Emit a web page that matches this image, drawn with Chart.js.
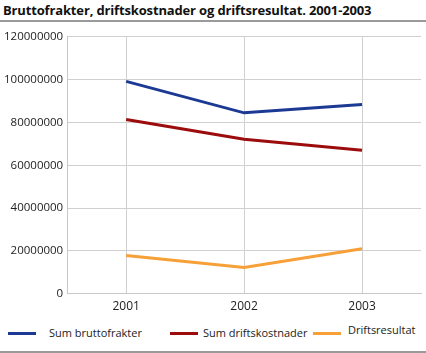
<!DOCTYPE html>
<html>
<head>
<meta charset="utf-8">
<script src="https://cdn.jsdelivr.net/npm/chart.js@4/dist/chart.umd.min.js"></script>
<style>
  body { margin: 0; background: #fff; font-family: "Open Sans", sans-serif; }
  #wrap { position: relative; width: 426px; height: 353px; overflow: hidden; }
  #title { position: absolute; left: 3px; top: 1px; font-size: 13px; font-weight: bold; color: #111; white-space: nowrap; letter-spacing: -0.15px; }
  .rule { position: absolute; left: 0; width: 426px; height: 2px; background: #9a9a9a; }
  #box { position: absolute; left: 0; top: 26px; width: 426px; height: 294px; }
  #legend { position: absolute; left: 0; top: 322px; width: 426px; height: 24px; font-size: 11px; color: #222; }
  .item { position: absolute; white-space: nowrap; }
  .sw { position: absolute; height: 3px; width: 28px; }
</style>
</head>
<body>
<div id="wrap">
  <div id="title">Bruttofrakter, driftskostnader og driftsresultat. 2001-2003</div>
  <div class="rule" style="top:20px"></div>
  <div id="box"><canvas id="chart"></canvas></div>
  <div id="legend"></div>
  <div class="rule" style="top:351px"></div>
</div>
<script>
const years = ['2001', '2002', '2003'];
const bruttofrakter = [99200000, 84500000, 88400000];
const driftskostnader = [81400000, 72200000, 67000000];
const driftsresultat = [17800000, 12200000, 21000000];
const seriesNames = ['Sum bruttofrakter', 'Sum driftskostnader', 'Driftsresultat'];
const seriesColors = ['#1c3a94', '#9c0c0c', '#f7a037'];

// legend items sit in fixed columns, like the original
const legendPos = [[8, 49, 0], [170, 203, 0], [313, 348, -3]];
const legend = document.getElementById('legend');
seriesNames.forEach((name, i) => {
  const [sx, tx, dy] = legendPos[i];
  const sw = document.createElement('div');
  sw.className = 'sw';
  sw.style.left = sx + 'px';
  sw.style.top = '10px';
  sw.style.background = seriesColors[i];
  legend.appendChild(sw);
  const t = document.createElement('div');
  t.className = 'item';
  t.style.left = tx + 'px';
  t.style.top = (3 + dy) + 'px';
  t.textContent = name;
  legend.appendChild(t);
});

const values = [bruttofrakter, driftskostnader, driftsresultat];
new Chart(document.getElementById('chart'), {
  type: 'line',
  data: {
    labels: years,
    datasets: values.map((v, i) => ({
      label: seriesNames[i],
      data: v,
      borderColor: seriesColors[i],
      backgroundColor: seriesColors[i],
      borderWidth: 3,
      pointRadius: 0,
      tension: 0
    }))
  },
  options: {
    responsive: true,
    maintainAspectRatio: false,
    animation: false,
    layout: { padding: { left: 0, right: 5, top: 4, bottom: 0 } },
    plugins: { legend: { display: false }, tooltip: { enabled: false } },
    scales: {
      x: {
        offset: true,
        grid: { offset: false, color: '#d0d0d0', lineWidth: 1, drawTicks: false },
        border: { color: '#c8c8c8' },
        ticks: { color: '#222', font: { family: 'Open Sans', size: 12 }, padding: 6 }
      },
      y: {
        min: 0,
        max: 120000000,
        grid: { color: '#d0d0d0', lineWidth: 1, drawTicks: false },
        border: { color: '#c8c8c8' },
        ticks: {
          stepSize: 20000000,
          color: '#222',
          font: { family: 'Open Sans', size: 11.5 },
          padding: 4,
          callback: v => String(v)
        }
      }
    }
  }
});
</script>
</body>
</html>
